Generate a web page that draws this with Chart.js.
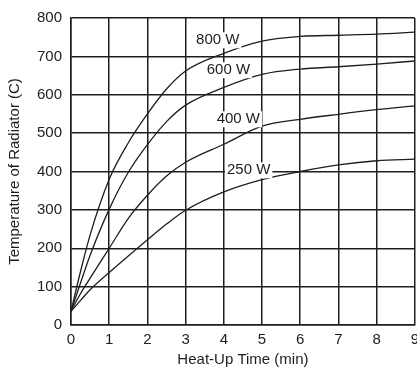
<!DOCTYPE html>
<html>
<head>
<meta charset="utf-8">
<script src="https://cdn.jsdelivr.net/npm/chart.js@4/dist/chart.umd.min.js"></script>
<style>
  html, body { margin: 0; padding: 0; background: #fff; overflow: hidden; }
  #wrap { width: 425px; height: 373px; }
</style>
</head>
<body>
<div id="wrap"><canvas id="heatChart"></canvas></div>
<script>
// Heat-up time (min) and radiator temperature (C) per power level
const timeMin = [0, 0.25, 0.5, 1, 1.5, 2, 2.5, 3, 4, 5, 6, 7, 8, 9];
const temp800 = [36, 140, 235, 380, 475, 550, 615, 662, 708, 740, 752, 755, 758, 763];
const temp600 = [36, 110, 182, 302, 398, 470, 530, 573, 619, 653, 667, 673, 680, 688];
const temp400 = [36, 82, 122, 200, 278, 338, 388, 424, 471, 518, 536, 549, 561, 571];
const temp250 = [36, 64, 92, 137, 180, 222, 263, 299, 347, 379, 400, 417, 428, 432];
const seriesLabels = ['800 W', '600 W', '400 W', '250 W'];

const ink = '#1e1e1e';
const font = { family: '"Liberation Sans", Arial, sans-serif', size: 15 };

function toPoints(values) {
    return values.map((v, i) => ({ x: timeMin[i], y: v }));
}

// curve labels with a white box, placed in data units
const labelSpots = [
    { text: seriesLabels[0], x: 3.84, y: 742 },
    { text: seriesLabels[1], x: 4.12, y: 664 },
    { text: seriesLabels[2], x: 4.38, y: 536 },
    { text: seriesLabels[3], x: 4.65, y: 403 }
];

const curveLabels = {
    id: 'curveLabels',
    afterDatasetsDraw(chart) {
        const ctx = chart.ctx;
        const xs = chart.scales.x, ys = chart.scales.y;
        ctx.save();
        ctx.font = font.size + 'px ' + font.family;
        ctx.textAlign = 'center';
        ctx.textBaseline = 'middle';
        labelSpots.forEach(l => {
            const px = xs.getPixelForValue(l.x);
            const py = ys.getPixelForValue(l.y);
            const w = ctx.measureText(l.text).width;
            ctx.fillStyle = '#fff';
            ctx.fillRect(px - w / 2 - 2, py - 8, w + 4, 16);
            ctx.fillStyle = ink;
            ctx.fillText(l.text, px, py);
        });
        ctx.restore();
    }
};

const datasets = [temp800, temp600, temp400, temp250].map((vals, i) => ({
    label: seriesLabels[i],
    data: toPoints(vals),
    borderColor: ink,
    borderWidth: 1.3,
    pointRadius: 0,
    fill: false,
    cubicInterpolationMode: 'monotone'
}));

new Chart(document.getElementById('heatChart'), {
    type: 'line',
    data: { datasets: datasets },
    options: {
        responsive: true,
        maintainAspectRatio: false,
        animation: false,
        layout: { padding: { top: 10, left: 6, right: 0, bottom: 4 } },
        plugins: {
            legend: { display: false },
            tooltip: { enabled: false }
        },
        scales: {
            x: {
                type: 'linear',
                min: 0,
                max: 9,
                ticks: { stepSize: 1, color: ink, font: font, padding: 6 },
                grid: { color: ink, lineWidth: 1.5, drawTicks: false },
                border: { color: ink, width: 1.5 },
                title: { display: true, text: 'Heat-Up Time (min)', color: ink, font: font, padding: { top: -4, bottom: 0 } }
            },
            y: {
                min: 0,
                max: 800,
                ticks: { stepSize: 100, color: ink, font: font, padding: 9 },
                grid: { color: ink, lineWidth: 1.5, drawTicks: false },
                border: { color: ink, width: 1.5 },
                title: { display: true, text: 'Temperature of Radiator (C)', color: ink, font: font, padding: { top: 0, bottom: 4 } }
            }
        }
    },
    plugins: [curveLabels]
});
</script>
</body>
</html>
